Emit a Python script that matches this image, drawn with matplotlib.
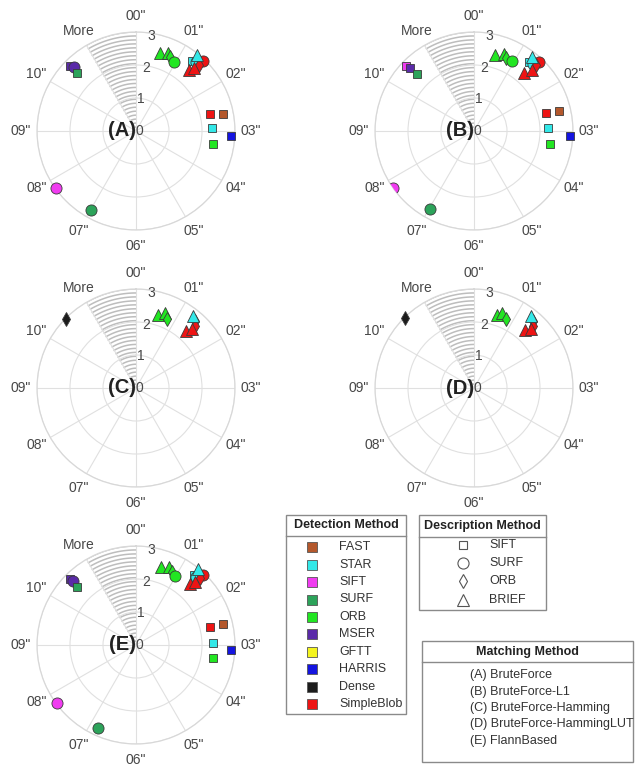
import numpy as np
import matplotlib as mpl
mpl.use('Agg')
import matplotlib.pyplot as plt
from matplotlib.patches import Rectangle

plt.rcParams['font.family'] = ['Liberation Sans', 'DejaVu Sans']

# legend content
det_names = ['FAST', 'STAR', 'SIFT', 'SURF', 'ORB', 'MSER', 'GFTT', 'HARRIS', 'Dense', 'SimpleBlob']
det_colors = ['#b4582c', '#33e8e8', '#f03cf0', '#2ca35a', '#22e622', '#5a2aa8', '#f4f41e', '#1414e0', '#1c1c1c', '#ee1414']
desc_names = ['SIFT', 'SURF', 'ORB', 'BRIEF']
desc_markers = ['s', 'o', 'd', '^']
desc_sizes = [5.8, 8.0, 7.0, 8.6]
match_names = ['(A) BruteForce', '(B) BruteForce-L1', '(C) BruteForce-Hamming',
               '(D) BruteForce-HammingLUT', '(E) FlannBased']
time_labels = ['00"', '01"', '02"', '03"', '04"', '05"', '06"', '07"', '08"', '09"', '10"', 'More']
r_ticks = [0, 1, 2, 3]
panel_names = ['(A)', '(B)', '(C)', '(D)', '(E)']

# panel data: detector, descriptor, time (s, 10.5 = more than 10 s), radial value
a_det = ['ORB', 'ORB', 'ORB', 'ORB', 'STAR', 'STAR', 'SimpleBlob', 'SimpleBlob', 'STAR', 'SimpleBlob', 'SimpleBlob',
         'FAST', 'SimpleBlob', 'STAR', 'HARRIS', 'ORB', 'MSER', 'MSER', 'SURF', 'SIFT', 'SURF']
a_desc = ['BRIEF', 'BRIEF', 'ORB', 'SURF', 'SIFT', 'SURF', 'SURF', 'ORB', 'BRIEF', 'BRIEF', 'BRIEF',
          'SIFT', 'SIFT', 'SIFT', 'SIFT', 'SIFT', 'SIFT', 'SURF', 'SIFT', 'SURF', 'SURF']
a_time = [0.57, 0.75, 0.83, 0.96, 1.29, 1.36, 1.45, 1.46, 1.29, 1.37, 1.42,
          2.62, 2.57, 2.93, 3.11, 3.32, 10.49, 10.52, 10.48, 7.81, 6.98]
a_val = [2.47, 2.57, 2.46, 2.40, 2.72, 2.77, 2.94, 2.76, 2.95, 2.45, 2.60,
         2.68, 2.30, 2.29, 2.88, 2.36, 2.80, 2.70, 2.52, 2.97, 2.75]

b_det = ['ORB', 'ORB', 'ORB', 'ORB', 'STAR', 'STAR', 'SimpleBlob', 'SimpleBlob', 'STAR', 'SimpleBlob', 'SimpleBlob',
         'FAST', 'SimpleBlob', 'STAR', 'HARRIS', 'ORB', 'SIFT', 'MSER', 'SURF', 'SIFT', 'SURF']
b_desc = ['BRIEF', 'BRIEF', 'ORB', 'SURF', 'SIFT', 'SURF', 'SURF', 'ORB', 'BRIEF', 'BRIEF', 'BRIEF',
          'SIFT', 'SIFT', 'SIFT', 'SIFT', 'SIFT', 'SIFT', 'SIFT', 'SIFT', 'SURF', 'SURF']
b_time = [0.51, 0.71, 0.80, 0.94, 1.29, 1.38, 1.44, 1.43, 1.26, 1.35, 1.46,
          2.56, 2.54, 2.93, 3.10, 3.32, 10.46, 10.49, 10.50, 7.83, 6.99]
b_val = [2.39, 2.50, 2.41, 2.41, 2.66, 2.72, 2.88, 2.74, 2.85, 2.33, 2.56,
         2.65, 2.24, 2.25, 2.90, 2.34, 2.86, 2.72, 2.45, 3.01, 2.72]

c_det = ['ORB', 'ORB', 'ORB', 'STAR', 'SimpleBlob', 'STAR', 'SimpleBlob', 'SimpleBlob', 'Dense']
c_desc = ['BRIEF', 'BRIEF', 'ORB', 'ORB', 'ORB', 'BRIEF', 'BRIEF', 'BRIEF', 'ORB']
c_time = [0.56, 0.70, 0.80, 1.38, 1.45, 1.29, 1.38, 1.45, 10.49]
c_val = [2.32, 2.44, 2.29, 2.70, 2.60, 2.78, 2.29, 2.46, 2.98]

d_det = ['ORB', 'ORB', 'ORB', 'STAR', 'SimpleBlob', 'STAR', 'SimpleBlob', 'SimpleBlob', 'Dense']
d_desc = ['BRIEF', 'BRIEF', 'ORB', 'ORB', 'ORB', 'BRIEF', 'BRIEF', 'BRIEF', 'ORB']
d_time = [0.59, 0.69, 0.82, 1.38, 1.46, 1.28, 1.38, 1.46, 10.51]
d_val = [2.33, 2.43, 2.30, 2.70, 2.60, 2.77, 2.33, 2.48, 2.98]

e_det = a_det
e_desc = a_desc
e_time = [0.59, 0.77, 0.87, 0.98, 1.32, 1.38, 1.46, 1.46, 1.31, 1.38, 1.43,
          2.55, 2.55, 2.94, 3.10, 3.33, 10.50, 10.52, 10.49, 7.79, 6.82]
e_val = [2.47, 2.58, 2.47, 2.40, 2.75, 2.75, 2.94, 2.80, 2.96, 2.47, 2.62,
         2.70, 2.31, 2.32, 2.88, 2.36, 2.82, 2.72, 2.52, 2.96, 2.75]

panels = [(a_det, a_desc, a_time, a_val), (b_det, b_desc, b_time, b_val),
          (c_det, c_desc, c_time, c_val), (d_det, d_desc, d_time, d_val),
          (e_det, e_desc, e_time, e_val)]

W, H = 637, 767
R = 99
centers = [(136, 131), (474, 131), (136, 388), (474, 388), (136, 645)]

fig = plt.figure(figsize=(W / 100, H / 100), dpi=100)

for (cx, cy), name, (dets, descs, times, vals) in zip(centers, panel_names, panels):
    ax = fig.add_axes([(cx - R) / W, (H - cy - R) / H, 2 * R / W, 2 * R / H], projection='polar')
    ax.set_theta_zero_location('N')
    ax.set_theta_direction(-1)
    ax.set_ylim(0, 3)
    ax.set_yticks(r_ticks)
    ax.set_yticklabels([])
    ax.set_xticks(np.deg2rad(np.arange(0, 360, 30)))
    ax.set_xticklabels(time_labels)
    ax.tick_params(axis='x', pad=1, labelsize=10, labelcolor='#474747')
    ax.grid(color='#e0e0e0', lw=0.8)
    ax.spines['polar'].set_color('#d8d8d8')
    ax.spines['polar'].set_linewidth(0.9)

    # striped "More" sector
    th = np.linspace(np.deg2rad(330), np.deg2rad(360), 40)
    for rr in np.arange(0.12, 3.01, 0.12):
        ax.plot(th, np.full_like(th, rr), color='#bdbdbd', lw=1.1, zorder=1)

    for v in r_ticks[1:]:
        ax.text(np.deg2rad(9), v * 0.97, str(v), ha='center', va='center', fontsize=10,
                color='#474747', zorder=3)
    ax.text(0, 0, '0', ha='left', va='center', fontsize=10, color='#474747', zorder=3)

    for det, desc, t, v in zip(dets, descs, times, vals):
        k = desc_names.index(desc)
        # markers past the rim get cut by it
        ax.plot(np.deg2rad(t * 30), v, marker=desc_markers[k], ms=desc_sizes[k],
                mfc=det_colors[det_names.index(det)], mec='#3a3a3a', mew=0.6,
                ls='none', clip_on=v > 3, zorder=4)

    ax.text(0, 0, name, ha='right', va='center', fontsize=14.5, fontweight='bold',
            color='#222222', zorder=5)

# legend boxes, drawn in pixel coordinates
lax = fig.add_axes([0, 0, 1, 1])
lax.set_xlim(0, W)
lax.set_ylim(H, 0)
lax.axis('off')
box_kw = dict(fill=False, ec='#8a8a8a', lw=1)

lax.add_patch(Rectangle((286, 515), 120, 199, **box_kw))
lax.plot([286, 406], [536, 536], color='#8a8a8a', lw=1)
lax.text(346, 525.5, 'Detection Method', ha='center', va='center', fontsize=9,
         fontweight='bold', color='#222222')
for i, (n, c) in enumerate(zip(det_names, det_colors)):
    y = 547.3 + i * 17.4
    lax.plot(312, y, marker='s', ms=7.4, mfc=c, mec='#555555', mew=0.6, ls='none')
    lax.text(339, y, n, ha='left', va='center', fontsize=9, color='#333333')

lax.add_patch(Rectangle((419, 515), 127, 95, **box_kw))
lax.plot([419, 546], [536.5, 536.5], color='#8a8a8a', lw=1)
lax.text(482.5, 526, 'Description Method', ha='center', va='center', fontsize=9,
         fontweight='bold', color='#222222')
for i, (n, m, s) in enumerate(zip(desc_names, desc_markers, desc_sizes)):
    y = 545 + i * 18.2
    lax.plot(463, y, marker=m, ms=s, mfc='none', mec='#555555', mew=0.8, ls='none')
    lax.text(489, y, n, ha='left', va='center', fontsize=9, color='#333333')

lax.add_patch(Rectangle((422, 641), 211, 121, **box_kw))
lax.plot([422, 633], [662, 662], color='#8a8a8a', lw=1)
lax.text(527, 652, 'Matching Method', ha='center', va='center', fontsize=9,
         fontweight='bold', color='#222222')
for i, n in enumerate(match_names):
    lax.text(470, 675 + i * 16.5, n, ha='left', va='center', fontsize=9, color='#333333')

fig.savefig('out.png', dpi=100)
